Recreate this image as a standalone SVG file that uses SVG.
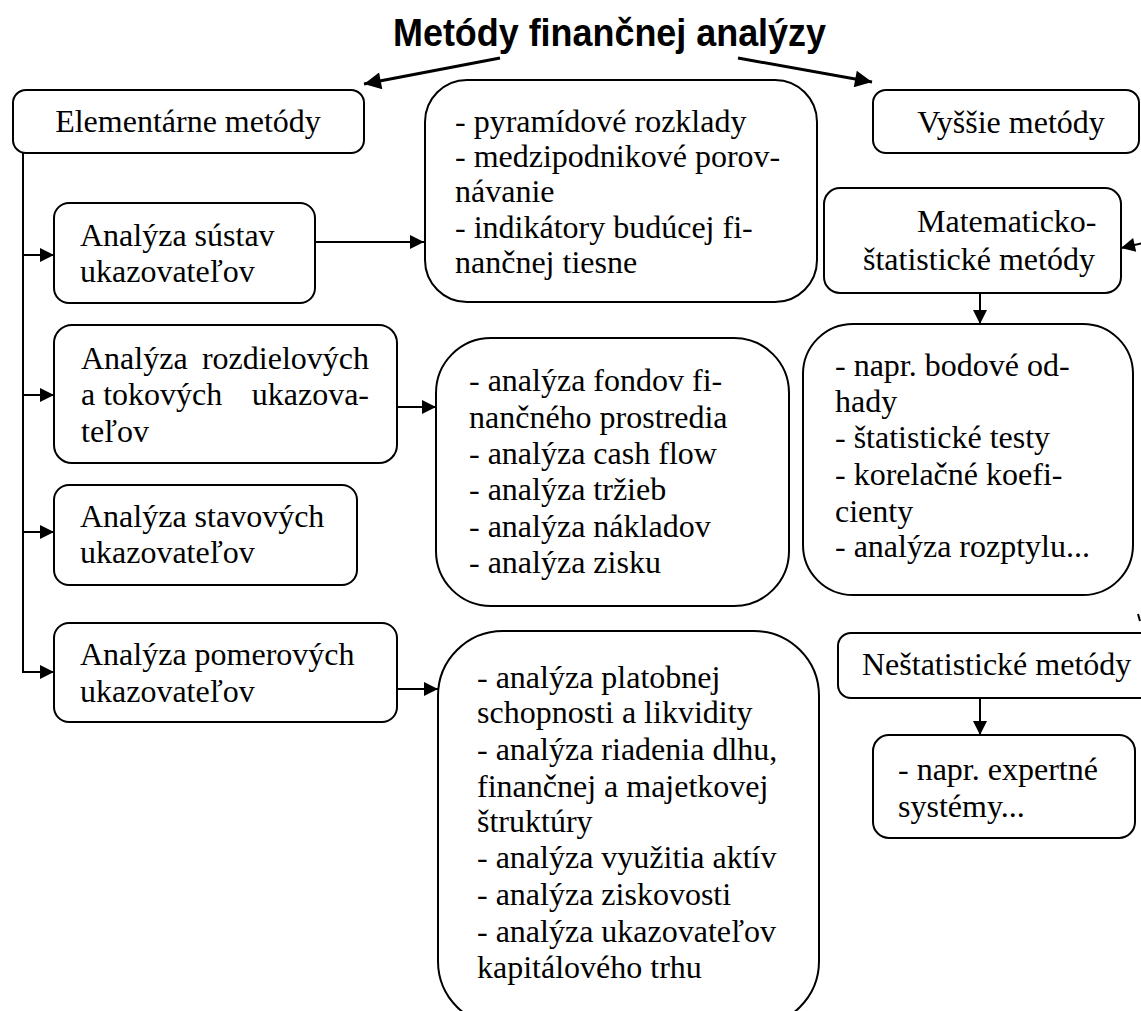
<svg xmlns="http://www.w3.org/2000/svg" width="1141" height="1011" viewBox="0 0 1141 1011">
<style>
.box{fill:#fff;stroke:#000;stroke-width:2}
.t{font-family:"Liberation Serif","Times New Roman",serif;font-size:32px;fill:#000}
.title{font-family:"Liberation Sans",Arial,sans-serif;font-size:38px;font-weight:bold;fill:#000}
.c{stroke:#000;stroke-width:2;fill:none}
.ct{stroke:#000;stroke-width:3;fill:none}
</style>
<defs>
<marker id="ah" viewBox="0 0 10 10" refX="10" refY="5" markerUnits="userSpaceOnUse" markerWidth="15" markerHeight="14" orient="auto">
<path d="M0,0 L10,5 L0,10 z" fill="#000"/>
</marker>
<marker id="ahb" viewBox="0 0 10 10" refX="10" refY="5" markerUnits="userSpaceOnUse" markerWidth="20" markerHeight="17" orient="auto">
<path d="M0,0 L10,5 L0,10 z" fill="#000"/>
</marker>
</defs>
<rect width="1141" height="1011" fill="#fff"/>
<text class="title" x="393" y="46" textLength="433" lengthAdjust="spacingAndGlyphs">Metódy finančnej analýzy</text>

<g id="connectors">
<line class="ct" x1="500" y1="58" x2="364" y2="84" marker-end="url(#ahb)"/>
<line class="ct" x1="738" y1="58" x2="872" y2="82" marker-end="url(#ahb)"/>
<line class="c" x1="23" y1="153" x2="23" y2="673"/>
<line class="c" x1="22" y1="255" x2="54" y2="255" marker-end="url(#ah)"/>
<line class="c" x1="22" y1="395" x2="54" y2="395" marker-end="url(#ah)"/>
<line class="c" x1="22" y1="532" x2="54" y2="532" marker-end="url(#ah)"/>
<line class="c" x1="22" y1="672" x2="54" y2="672" marker-end="url(#ah)"/>
<line class="c" x1="315" y1="242" x2="424" y2="242" marker-end="url(#ah)"/>
<line class="c" x1="397" y1="407" x2="436" y2="407" marker-end="url(#ah)"/>
<line class="c" x1="397" y1="689" x2="438" y2="689" marker-end="url(#ah)"/>
<line class="c" x1="980" y1="293" x2="980" y2="324" marker-end="url(#ah)"/>
<line class="c" x1="1143" y1="243" x2="1121" y2="248" marker-end="url(#ah)"/>
<line class="c" x1="980" y1="698" x2="980" y2="735" marker-end="url(#ah)"/>
<line class="c" x1="1138" y1="614" x2="1140" y2="621"/>
</g>

<g id="elementarne">
<rect class="box" x="13" y="90" width="351" height="63" rx="13"/>
<text class="t" x="188" y="132" text-anchor="middle">Elementárne metódy</text>
</g>
<g id="vyssie">
<rect class="box" x="873" y="90" width="266" height="63" rx="13"/>
<text class="t" x="1011" y="133" text-anchor="middle">Vyššie metódy</text>
</g>
<g id="pyramidove">
<rect class="box" x="425" y="80" width="392" height="222" rx="42"/>
<text class="t" x="455" y="132">- pyramídové rozklady</text>
<text class="t" x="455" y="167">- medzipodnikové porov-</text>
<text class="t" x="455" y="202">návanie</text>
<text class="t" x="455" y="238">- indikátory budúcej fi-</text>
<text class="t" x="455" y="273">nančnej tiesne</text>
</g>
<g id="sustav">
<rect class="box" x="54" y="203" width="261" height="100" rx="15"/>
<text class="t" x="80" y="246">Analýza sústav</text>
<text class="t" x="80" y="282">ukazovateľov</text>
</g>
<g id="rozdielove">
<rect class="box" x="54" y="325" width="343" height="138" rx="18"/>
<text class="t" x="81" y="369">Analýza</text>
<text class="t" x="369" y="369" text-anchor="end">rozdielových</text>
<text class="t" x="81" y="405">a tokových</text>
<text class="t" x="369" y="405" text-anchor="end">ukazova-</text>
<text class="t" x="81" y="442">teľov</text>
</g>
<g id="fondov">
<rect class="box" x="436" y="338" width="353" height="268" rx="55"/>
<text class="t" x="469" y="391">- analýza fondov fi-</text>
<text class="t" x="469" y="428">nančného prostredia</text>
<text class="t" x="469" y="464">- analýza cash flow</text>
<text class="t" x="469" y="500">- analýza tržieb</text>
<text class="t" x="469" y="537">- analýza nákladov</text>
<text class="t" x="469" y="573">- analýza zisku</text>
</g>
<g id="stavove">
<rect class="box" x="54" y="485" width="303" height="100" rx="15"/>
<text class="t" x="80" y="527">Analýza stavových</text>
<text class="t" x="80" y="563">ukazovateľov</text>
</g>
<g id="pomerove">
<rect class="box" x="54" y="623" width="343" height="99" rx="15"/>
<text class="t" x="80" y="665">Analýza pomerových</text>
<text class="t" x="80" y="702">ukazovateľov</text>
</g>
<g id="pomerove-detail">
<rect class="box" x="438" y="631" width="381" height="395" rx="65"/>
<text class="t" x="477" y="688">- analýza platobnej</text>
<text class="t" x="477" y="723">schopnosti a likvidity</text>
<text class="t" x="477" y="760">- analýza riadenia dlhu,</text>
<text class="t" x="477" y="797">finančnej a majetkovej</text>
<text class="t" x="477" y="832">štruktúry</text>
<text class="t" x="477" y="868">- analýza využitia aktív</text>
<text class="t" x="477" y="905">- analýza ziskovosti</text>
<text class="t" x="477" y="942">- analýza ukazovateľov</text>
<text class="t" x="477" y="978">kapitálového trhu</text>
</g>
<g id="matematicko">
<rect class="box" x="824" y="188" width="297" height="105" rx="16"/>
<text class="t" x="917" y="232">Matematicko-</text>
<text class="t" x="863" y="270">štatistické metódy</text>
</g>
<g id="matematicko-detail">
<rect class="box" x="803" y="324" width="330" height="271" rx="50"/>
<text class="t" x="835" y="376">- napr. bodové od-</text>
<text class="t" x="835" y="412">hady</text>
<text class="t" x="835" y="448">- štatistické testy</text>
<text class="t" x="835" y="485">- korelačné koefi-</text>
<text class="t" x="835" y="522">cienty</text>
<text class="t" x="835" y="557">- analýza rozptylu...</text>
</g>
<g id="nestatisticke">
<rect class="box" x="838" y="633" width="320" height="65" rx="13"/>
<text class="t" x="862" y="675">Neštatistické metódy</text>
</g>
<g id="expertne">
<rect class="box" x="873" y="735" width="262" height="103" rx="16"/>
<text class="t" x="898" y="780">- napr. expertné</text>
<text class="t" x="898" y="817">systémy...</text>
</g>
</svg>
